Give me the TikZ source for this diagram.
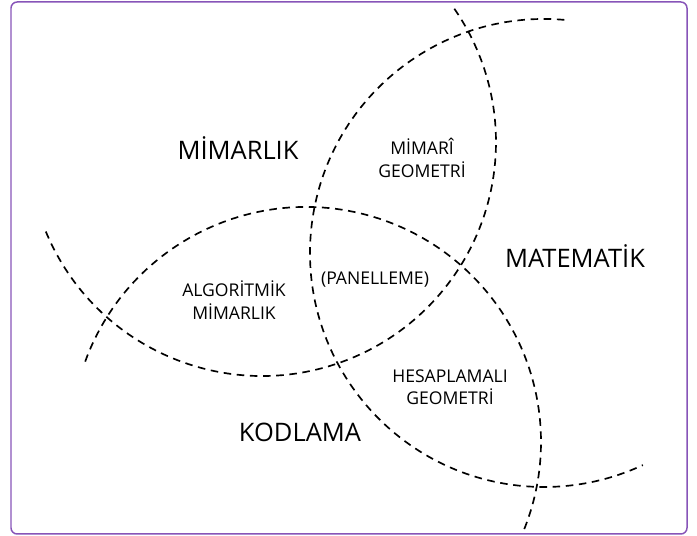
\documentclass[tikz,border=0pt]{standalone}
\usepackage{fontspec}
\setmainfont{Open Sans}
\definecolor{cerceverengi}{rgb}{0.53,0.33,0.72}
\tikzset{
  alan/.style={
    font=\fontsize{14.5}{17}\selectfont,
    inner sep=0pt,
    anchor=base
  },
  kesisim/.style={
    font=\fontsize{10}{12.8}\selectfont,
    align=center,
    inner sep=0pt
  },
  yay/.style={
    draw=black,
    line width=0.95pt,
    dash pattern=on 4.3pt off 3.2pt
  },
  cerceve/.style={
    draw=cerceverengi,
    line width=0.85pt,
    rounded corners=3.5pt
  }
}

\begin{document}
\begin{tikzpicture}[x=0.02cm,y=0.02cm]
\useasboundingbox (0,0) rectangle (697,536);
\draw[cerceve] (11,2) rectangle (687,534);
% daire merkezleri
\coordinate (matM) at (544,283);
\coordinate (kodM) at (306,94);
\coordinate (mimM) at (262,394);
\draw[yay] (matM) ++(85:234) arc[start angle=85, end angle=295, radius=234];
\draw[yay] (kodM) ++(160:235) arc[start angle=160, end angle=-22, radius=235];
\draw[yay] (mimM) ++(202.5:234) arc[start angle=202.5, end angle=395.6, radius=234];
\node[alan] (mimarlik) at (238,376) {MİMARLIK};
\node[alan] (matematik) at (575,268) {MATEMATİK};
\node[alan] (kodlama) at (300,94) {KODLAMA};
\node[kesisim] (mimarigeo) at (422,378) {MİMARÎ\\GEOMETRİ};
\node[kesisim] (algoritmik) at (234,236) {ALGORİTMİK\\MİMARLIK};
\node[kesisim] (hesaplamali) at (450,149) {HESAPLAMALI\\GEOMETRİ};
\node[kesisim,anchor=base] (panel) at (375,251) {(PANELLEME)};
\end{tikzpicture}
\end{document}
